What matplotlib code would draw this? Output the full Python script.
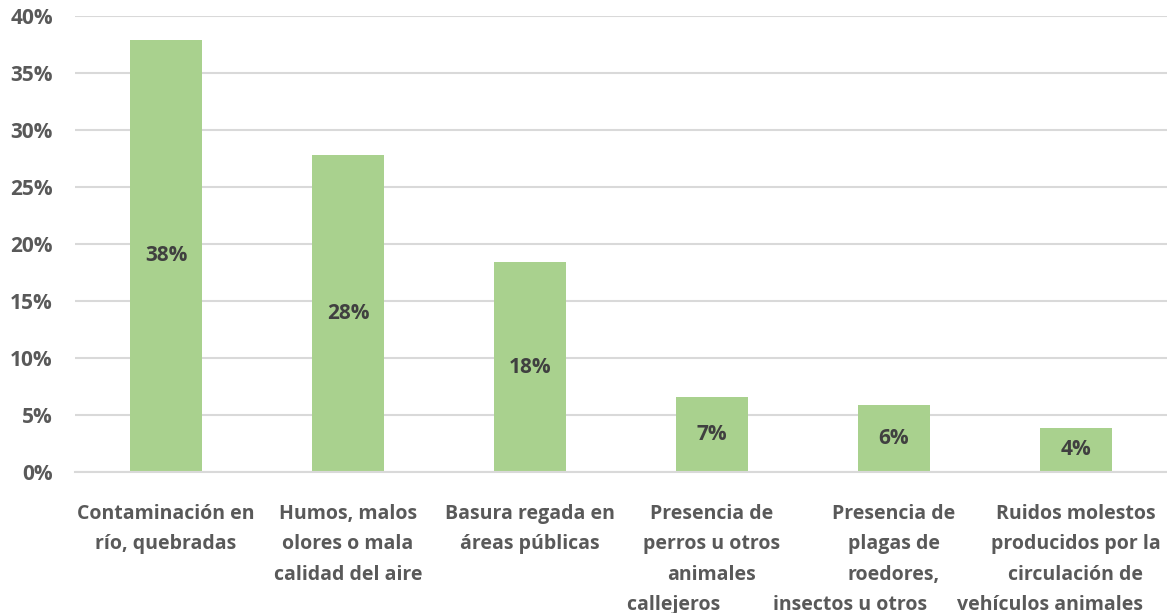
import matplotlib.pyplot as plt
from matplotlib.ticker import PercentFormatter

# trailing spaces on a few last lines mimic the off-centre wrapping of the original
categories = [
    "Contaminación en\nrío, quebradas",
    "Humos, malos\nolores o mala\ncalidad del aire",
    "Basura regada en\náreas públicas",
    "Presencia de\nperros u otros\nanimales\ncallejeros" + " " * 15,
    "Presencia de\nplagas de\nroedores,\ninsectos u otros" + " " * 17,
    "Ruidos molestos\nproducidos por la\ncirculación de\nvehículos animales" + " " * 10,
]
values = [37.9, 27.8, 18.4, 6.6, 5.9, 3.9]
labels = ["38%", "28%", "18%", "7%", "6%", "4%"]

plt.rcParams['font.family'] = ['Open Sans', 'DejaVu Sans']
plt.rcParams['font.weight'] = 'bold'

fig = plt.figure(figsize=(11.67, 6.13), dpi=100)
ax = fig.add_axes([75 / 1167, 1 - 472 / 613, 1092 / 1167, 456 / 613])

x = range(len(values))
bars = ax.bar(x, values, width=0.4, color='#A9D18E', zorder=2)
for b, lab in zip(bars, labels):
    ax.text(b.get_x() + b.get_width() / 2, b.get_height() / 2, lab,
            ha='center', va='center', fontsize=15, fontweight='bold', color='#404040')

ax.set_xlim(-0.5, 5.5)
ax.set_ylim(0, 40)
ax.set_yticks(range(0, 41, 5))
ax.yaxis.set_major_formatter(PercentFormatter(decimals=0))
ax.grid(axis='y', color='#D9D9D9', linewidth=1.5, zorder=0)
for s in ['top', 'right', 'left']:
    ax.spines[s].set_visible(False)
ax.spines['bottom'].set_color('#D9D9D9')
ax.spines['bottom'].set_linewidth(1.5)

ax.set_xticks(list(x))
ax.set_xticklabels(categories, fontsize=14, fontweight='bold', color='#595959',
                   linespacing=1.7)
ax.tick_params(axis='x', length=0, pad=23)
ax.tick_params(axis='y', length=0, pad=16, labelsize=15, labelcolor='#595959')

fig.savefig('out.png', dpi=100)
